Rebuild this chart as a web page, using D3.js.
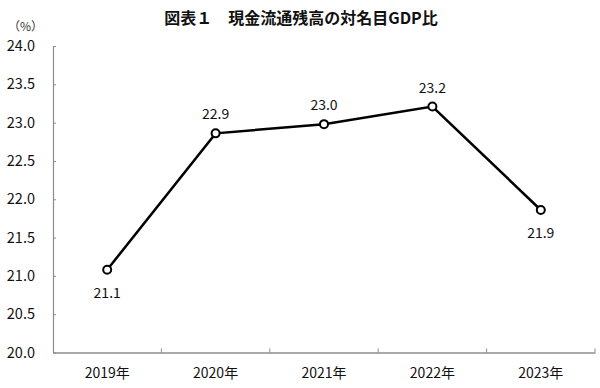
<!DOCTYPE html>
<html><head><meta charset="utf-8">
<script src="https://cdn.jsdelivr.net/npm/d3@7"></script>
<style>
html,body{margin:0;padding:0;background:#fff;}
svg text{font-family:"Noto Sans CJK JP","Noto Sans",sans-serif;}
</style></head>
<body><svg id="c" width="600" height="388"></svg>
<script>
const categories = ["2019年","2020年","2021年","2022年","2023年"];
const values = [21.08, 22.86, 22.98, 23.21, 21.86];
const labelPos = ["below","above","above","above","below"];
const yTicks = [20.0,20.5,21.0,21.5,22.0,22.5,23.0,23.5,24.0];
const title = "図表１　現金流通残高の対名目GDP比";
const unit = "（%）";

const svg = d3.select("#c");
const L = 53, R = 595, T = 46, B = 352.5;
const x = d3.scaleBand().domain(categories).range([L, R]);
const y = d3.scaleLinear().domain([20, 24]).range([B, T]);
const axisColor = "#8c8c8c";

svg.append("text").attr("x", 301).attr("y", 24).attr("text-anchor","middle")
  .attr("font-size", 16).attr("font-weight","bold").attr("fill","#111").text(title);
svg.append("text").attr("x", 8).attr("y", 31).attr("font-size", 12).attr("fill","#333").text(unit);

// y axis
const ya = svg.append("g").attr("transform",`translate(${L},0)`)
  .call(d3.axisLeft(y).tickValues(yTicks).tickFormat(d3.format(".1f")).tickSizeInner(-3).tickSizeOuter(0).tickPadding(18));
ya.select(".domain").attr("stroke", axisColor).attr("stroke-width",1.2);
ya.selectAll(".tick line").attr("stroke", axisColor);
ya.selectAll(".tick text").attr("font-size",14.5).attr("fill","#111")
  .attr("font-family",'"Noto Sans CJK JP","Noto Sans",sans-serif');

// x axis
const xa = svg.append("g").attr("transform",`translate(0,${B})`)
  .call(d3.axisBottom(x).tickSize(0).tickPadding(16));
xa.select(".domain").attr("stroke", axisColor).attr("stroke-width",1.5);
xa.selectAll(".tick text").attr("font-size",14).attr("fill","#111")
  .attr("font-family",'"Noto Sans CJK JP","Noto Sans",sans-serif');
// boundary ticks
const bounds = categories.map(c => x(c) + x.bandwidth());
xa.selectAll(".btick").data(bounds).enter().append("line").attr("class","btick")
  .attr("x1", d=>d).attr("x2", d=>d).attr("y1",0).attr("y2",-4)
  .attr("stroke", axisColor).attr("stroke-width",1);

const cx = (d,i) => x(categories[i]) + x.bandwidth()/2;
const line = d3.line().x((d,i)=>cx(d,i)).y(d=>y(d));
svg.append("path").datum(values).attr("d", line).attr("fill","none")
  .attr("stroke","#000").attr("stroke-width",2.5);
svg.selectAll("circle.pt").data(values).enter().append("circle").attr("class","pt")
  .attr("cx",(d,i)=>cx(d,i)).attr("cy",d=>y(d)).attr("r",4)
  .attr("fill","#fff").attr("stroke","#000").attr("stroke-width",2);
svg.selectAll("text.lbl").data(values).enter().append("text").attr("class","lbl")
  .attr("x",(d,i)=>cx(d,i)).attr("y",(d,i)=> labelPos[i]==="above" ? y(d)-14 : y(d)+28)
  .attr("text-anchor","middle").attr("font-size",14).attr("fill","#111")
  .text(d=>d3.format(".1f")(d));
</script></body></html>
